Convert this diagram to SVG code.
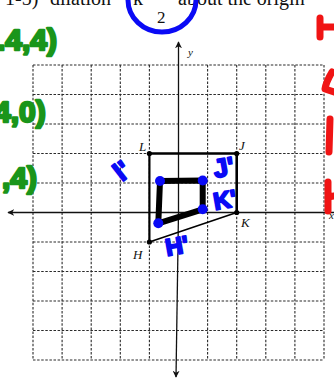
<svg xmlns="http://www.w3.org/2000/svg" width="334" height="380" viewBox="0 0 334 380">
<defs>
<style>
.grid line{stroke:#2a2a2a;stroke-width:1.1;stroke-dasharray:2.5 1.6}
.axis{stroke:#111;stroke-width:1.3;fill:none}
.edge{stroke:#000;fill:none;stroke-linecap:round}
.thick{stroke:#000;stroke-width:6;fill:none;stroke-linejoin:round;stroke-linecap:round}
.pt{fill:#000}
.bdot{fill:#0a0af5}
.lbl{font-family:"Liberation Serif",serif;font-style:italic;font-size:13px;fill:#111}
.top{font-family:"Liberation Serif",serif;font-size:20px;fill:#111}
.blue{font-family:"Liberation Sans",sans-serif;font-weight:bold;font-size:24px;fill:#0a0af5;stroke:#0a0af5;stroke-width:2;stroke-linejoin:round}
.green{font-family:"Liberation Sans",sans-serif;font-weight:bold;font-size:30px;fill:#1a951a;stroke:#1a951a;stroke-width:2.5;stroke-linejoin:round}
.red{stroke:#f01414;stroke-width:7;fill:none;stroke-linecap:round;stroke-linejoin:round}
</style>
<marker id="arr" viewBox="0 0 10 10" refX="9" refY="5" markerWidth="7" markerHeight="7" orient="auto-start-reverse" markerUnits="userSpaceOnUse">
<path d="M0,0 L10,5 L0,10 L3,5 Z" fill="#111"/>
</marker>
</defs>

<g id="header">
<text class="top" x="5" y="5">1-5)</text>
<text class="top" x="50" y="5">dilation</text>
<text class="top" x="133" y="5">k</text>
<text class="top" x="157" y="23" style="font-size:17px">2</text>
<text class="top" x="178" y="5">about the origin</text>
<ellipse cx="162" cy="0" rx="34" ry="32" fill="none" stroke="#0a0af5" stroke-width="5"/>
</g>

<g class="grid" id="grid">
<line x1="33" y1="65" x2="33" y2="360"/>
<line x1="62.1" y1="65" x2="62.1" y2="360"/>
<line x1="91.2" y1="65" x2="91.2" y2="360"/>
<line x1="120.3" y1="65" x2="120.3" y2="360"/>
<line x1="149.4" y1="65" x2="149.4" y2="360"/>
<line x1="207.6" y1="65" x2="207.6" y2="360"/>
<line x1="236.7" y1="65" x2="236.7" y2="360"/>
<line x1="265.8" y1="65" x2="265.8" y2="360"/>
<line x1="294.9" y1="65" x2="294.9" y2="360"/>
<line x1="324" y1="65" x2="324" y2="360"/>
<line x1="33" y1="65" x2="324" y2="65"/>
<line x1="33" y1="94.5" x2="324" y2="94.5"/>
<line x1="33" y1="124" x2="324" y2="124"/>
<line x1="33" y1="153.5" x2="324" y2="153.5"/>
<line x1="33" y1="183" x2="324" y2="183"/>
<line x1="33" y1="242" x2="324" y2="242"/>
<line x1="33" y1="271.5" x2="324" y2="271.5"/>
<line x1="33" y1="301" x2="324" y2="301"/>
<line x1="33" y1="330.5" x2="324" y2="330.5"/>
<line x1="33" y1="360" x2="324" y2="360"/>
</g>

<g id="axes">
<line class="axis" x1="336" y1="212.5" x2="8" y2="212.5" marker-end="url(#arr)"/>
<line class="axis" x1="178.5" y1="212.5" x2="178.5" y2="42" marker-end="url(#arr)"/>
<line class="axis" x1="178.5" y1="212.5" x2="176" y2="377" marker-end="url(#arr)"/>
<text class="lbl" x="188" y="56" style="font-size:11px">y</text>
<text class="lbl" x="329" y="219" style="font-size:11px">x</text>
</g>

<g id="connectors">
<line class="edge" x1="149.4" y1="153.5" x2="236.7" y2="153.5" stroke-width="2.6"/>
<line class="edge" x1="236.7" y1="153.5" x2="236.7" y2="212.5" stroke-width="2.6"/>
<line class="edge" x1="236.7" y1="212.5" x2="149.4" y2="242" stroke-width="1.6"/>
<line class="edge" x1="149.4" y1="242" x2="149.4" y2="153.5" stroke-width="2.2"/>
<path class="thick" d="M160,181 L202.7,180.5 L202.7,209.3 L158.3,223.3 Z"/>
</g>

<g id="L"><circle class="pt" cx="149.4" cy="153.5" r="2.6"/><text class="lbl" x="139" y="151">L</text></g>
<g id="J"><circle class="pt" cx="236.7" cy="153.5" r="2.6"/><text class="lbl" x="239" y="150">J</text></g>
<g id="K"><circle class="pt" cx="236.7" cy="212.5" r="2.6"/><text class="lbl" x="241" y="227">K</text></g>
<g id="H"><circle class="pt" cx="149.4" cy="242" r="2.6"/><text class="lbl" x="133" y="259">H</text></g>

<g id="Lp"><circle class="bdot" cx="160" cy="181" r="5"/><text class="blue" transform="translate(122,182) rotate(-38)" style="font-size:26px">l'</text></g>
<g id="Jp"><circle class="bdot" cx="202.7" cy="180.5" r="5"/><text class="blue" transform="translate(215,178) rotate(-10)" style="font-size:26px">J'</text></g>
<g id="Kp"><circle class="bdot" cx="202.7" cy="209.3" r="5"/><text class="blue" transform="translate(215,210) rotate(-10)">K'</text></g>
<g id="Hp"><circle class="bdot" cx="158.3" cy="223.3" r="5"/><text class="blue" transform="translate(167,256) rotate(-10)">H'</text></g>

<g id="notes-green">
<text class="green" x="-3" y="50">.4,4)</text>
<text class="green" x="-6" y="122">4,0)</text>
<text class="green" x="2" y="188">,4)</text>
</g>

<g id="notes-red">
<path class="red" d="M320,18 L320,37 M320,27 L334,27"/>
<path class="red" d="M332,72 Q326,82 325,89 L334,92"/>
<path class="red" d="M330,119 L329,152"/>
<path class="red" d="M328,182 L328,211 M328,197 L334,196"/>
</g>
</svg>
